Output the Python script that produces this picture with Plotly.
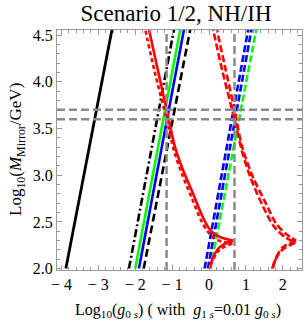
import plotly.graph_objects as go

# ---- data (x = log10 g0s, y = log10 M) ----
black_solid_x = [-3.88, -2.61]
black_solid_y = [2.0, 4.6]

black_dashdot_x = [-2.17, -0.93]
black_dashdot_y = [2.0, 4.6]
green_solid_x = [-2.0, -0.76]
green_solid_y = [2.0, 4.6]
blue_solid_x = [-1.9, -0.66]
blue_solid_y = [2.0, 4.6]
black_dashed_x = [-1.77, -0.49]
black_dashed_y = [2.0, 4.6]

blue_dash_a_x = [-0.12, 1.08]
blue_dash_a_y = [2.0, 4.6]
blue_dash_b_x = [-0.03, 1.17]
blue_dash_b_y = [2.0, 4.6]
green_dash_x = [0.04, 1.30]
green_dash_y = [2.0, 4.6]

# red, left group (solid and dotted), upper and lower arms meeting at a cusp
red_solid_up_x = [-1.64, -1.62, -1.40, -1.15, -0.92, -0.70, -0.45, -0.18, 0.0, 0.15, 0.35, 0.65]
red_solid_up_y = [4.6, 4.55, 4.15, 3.70, 3.30, 3.05, 2.82, 2.56, 2.43, 2.37, 2.33, 2.30]
red_solid_lo_x = [0.65, 0.29, 0.11, 0.02]
red_solid_lo_y = [2.30, 2.23, 2.12, 2.0]

red_dot_up_x = [-1.75, -1.72, -1.48, -1.15, -0.94, -0.72, -0.48, -0.22, -0.04, 0.12, 0.34, 0.63]
red_dot_up_y = [4.62, 4.55, 4.12, 3.60, 3.25, 3.00, 2.77, 2.52, 2.40, 2.33, 2.29, 2.27]
red_dot_lo_x = [0.63, 0.28, 0.10, 0.0]
red_dot_lo_y = [2.27, 2.20, 2.09, 2.0]

# red, right group (two dashed)
red_dash_b_up_x = [0.20, 0.22, 0.44, 0.69, 0.90, 1.19, 1.55, 1.82, 2.09, 2.36]
red_dash_b_up_y = [4.6, 4.55, 4.15, 3.70, 3.30, 2.98, 2.69, 2.48, 2.37, 2.30]
red_dash_b_lo_x = [2.36, 2.0, 1.82, 1.73]
red_dash_b_lo_y = [2.30, 2.23, 2.12, 2.0]

red_dash_a_up_x = [0.08, 0.10, 0.36, 0.69, 0.90, 1.12, 1.47, 1.76, 2.05, 2.34]
red_dash_a_up_y = [4.62, 4.58, 4.12, 3.60, 3.25, 2.98, 2.66, 2.45, 2.34, 2.28]
red_dash_a_lo_x = [2.34, 1.98, 1.79, 1.70]
red_dash_a_lo_y = [2.28, 2.20, 2.09, 1.98]

gray_vlines = [-1.15, 0.69]
gray_hlines = [3.6, 3.7]

x_ticks = [-4, -3, -2, -1, 0, 1, 2]
x_ticktext = ["\u2212 4", "\u2212 3", "\u2212 2", "\u2212 1", "0", "1", "2"]
y_ticks = [2.0, 2.5, 3.0, 3.5, 4.0, 4.5]
y_ticktext = ["2.0", "2.5", "3.0", "3.5", "4.0", "4.5"]

FONT = "Liberation Serif"
RED = "#ff0000"
GREEN = "#00ff00"
BLUE = "#0000ff"
BLACK = "#000000"
GRAY = "#8a8a8a"

fig = go.Figure()


def add(x, y, color, dash="solid", width=2.6, shape="linear"):
    fig.add_trace(go.Scatter(x=x, y=y, mode="lines", showlegend=False,
                             line=dict(color=color, width=width, dash=dash,
                                       shape=shape, smoothing=0.8),
                             hoverinfo="skip"))


add(black_solid_x, black_solid_y, BLACK, width=2.8)
add(black_dashdot_x, black_dashdot_y, BLACK, dash="8px,3px,2px,3px")
add(green_solid_x, green_solid_y, GREEN)
add(blue_solid_x, blue_solid_y, BLUE)
add(black_dashed_x, black_dashed_y, BLACK, dash="8px,4px")

add(green_dash_x, green_dash_y, GREEN, dash="7px,3px")
add(blue_dash_b_x, blue_dash_b_y, BLUE, dash="7px,3px")
add(blue_dash_a_x, blue_dash_a_y, BLUE, dash="7px,3px")

add(red_solid_up_x, red_solid_up_y, RED, shape="spline")
add(red_solid_lo_x, red_solid_lo_y, RED, shape="spline")
add(red_dot_up_x, red_dot_up_y, RED, dash="4px,3px", shape="spline")
add(red_dot_lo_x, red_dot_lo_y, RED, dash="4px,3px", shape="spline")

add(red_dash_b_up_x, red_dash_b_up_y, RED, dash="7px,3px", shape="spline")
add(red_dash_b_lo_x, red_dash_b_lo_y, RED, dash="7px,3px", shape="spline")
add(red_dash_a_up_x, red_dash_a_up_y, RED, dash="7px,3px", shape="spline")
add(red_dash_a_lo_x, red_dash_a_lo_y, RED, dash="7px,3px", shape="spline")

for v in gray_vlines:
    fig.add_vline(x=v, line=dict(color=GRAY, width=2.5, dash="8px,4px"))
for h in gray_hlines:
    fig.add_hline(y=h, line=dict(color=GRAY, width=2.5, dash="8px,4px"))

axis_common = dict(showline=True, mirror="ticks", linecolor="#999999", linewidth=1,
                   ticks="inside", tickcolor="#999999", ticklen=5, tickwidth=1,
                   showgrid=False, zeroline=False, automargin=False,
                   tickfont=dict(family=FONT, size=16, color="black"))

fig.update_xaxes(range=[-4.12, 2.52], tickvals=x_ticks, ticktext=x_ticktext,
                 minor=dict(ticks="inside", dtick=0.2, tick0=0, ticklen=3,
                            tickcolor="#999999", showgrid=False),
                 **axis_common)
fig.update_yaxes(range=[1.985, 4.555], tickvals=y_ticks, ticktext=y_ticktext,
                 minor=dict(ticks="inside", dtick=0.1, tick0=0, ticklen=3,
                            tickcolor="#999999", showgrid=False),
                 **axis_common)

W, H = 305, 326
fig.update_layout(
    template="none",
    width=W, height=H,
    margin=dict(l=57, r=3, t=30, b=56, autoexpand=False),
    paper_bgcolor="white", plot_bgcolor="white",
    title=dict(text="Scenario 1/2, NH/IH", x=176 / W, xanchor="center",
               y=1 - 13 / H, yanchor="middle",
               font=dict(family=FONT, size=23, color="black")),
    annotations=[
        dict(text="Log<sub>10</sub>(<i>g</i><sub>0 <i>s</i></sub>) ( with  <i>g</i><sub>1 <i>s</i></sub>=0.01 <i>g</i><sub>0 <i>s</i></sub>)",
             xref="paper", yref="paper", x=0.5, y=0, xanchor="center", yanchor="middle",
             yshift=-40, xshift=-2, showarrow=False,
             font=dict(family=FONT, size=16, color="black")),
        dict(text="Log<sub>10</sub>(<i>M</i><sub>Mirror</sub>/GeV)",
             xref="paper", yref="paper", x=0, y=0.5, xanchor="center", yanchor="middle",
             xshift=-40, textangle=-90, showarrow=False,
             font=dict(family=FONT, size=17, color="black")),
    ],
)

# remove the browser's default 8px body margin so the figure fills the window
fig.write_html("out.html",
               config={"displayModeBar": False, "staticPlot": True},
               post_script="document.body.style.margin='0px';document.body.style.padding='0px';")
